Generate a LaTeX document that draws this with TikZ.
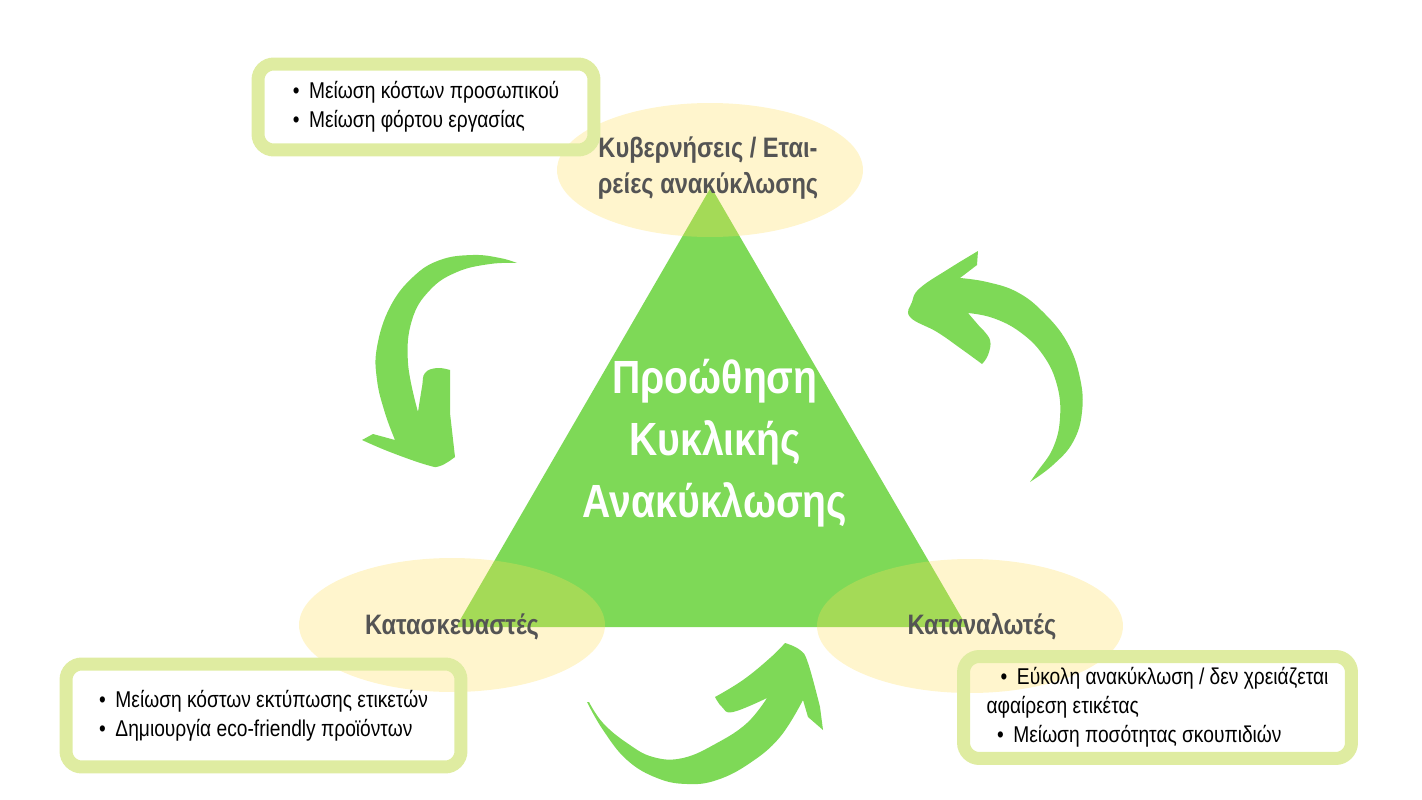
\documentclass[tikz,border=0pt]{standalone}
\usepackage{fontspec}
\setmainfont[FakeStretch=0.84]{Liberation Sans}
\usetikzlibrary{shapes.geometric, positioning}

\definecolor{leaf}{HTML}{7ED957}
\definecolor{sun}{HTML}{FFDE59}
\definecolor{lime}{RGB}{223,236,161}
\definecolor{ink}{HTML}{545454}

\begin{document}
\begin{tikzpicture}[x=0.02cm, y=-0.02cm,
  bx/.style={draw=lime, line width=7.4pt, rounded corners=9pt, align=left,
    font=\fontsize{13}{16.5}\selectfont, inner sep=0pt},
  oval/.style={ellipse, fill=sun, fill opacity=0.3, inner sep=0pt,
    minimum width=6.12cm, minimum height=2.68cm},
  lbl/.style={text=ink, font=\fontsize{16}{20.5}\selectfont\bfseries, align=center}]
  \useasboundingbox (0,0) rectangle (1422,800);
  % triangle
  \coordinate (top) at (711,187);
  \coordinate (bl) at (456,627);
  \coordinate (br) at (967,627);
  \fill[leaf] (top) -- (bl) -- (br) -- cycle;
  % ovals
  \node[oval] (govE) at (710,170) {};
  \node[oval] (mfrE) at (452,625) {};
  \node[oval] (consE) at (970,626) {};
  \node[lbl] (gov) at (708,168) {Κυβερνήσεις / Εται-\\ ρείες ανακύκλωσης};
  \node[lbl] (mfr) at (452,627) {Κατασκευαστές};
  \node[lbl] (cons) at (982,627) {Καταναλωτές};
  % boxes
  \node[bx, minimum width=6.72cm, minimum height=1.72cm] (govbox) at (426,107)
    {\textbullet\hspace{5.5pt}Μείωση κόστων προσωπικού\\ \textbullet\hspace{5.5pt}Μείωση φόρτου εργασίας};
  \node[bx, minimum width=7.9cm, minimum height=2.06cm] (mfrbox) at (263.5,715.5)
    {\textbullet\hspace{5.5pt}Μείωση κόστων εκτύπωσης ετικετών\\ \textbullet\hspace{5.5pt}Δημιουργία eco-friendly προϊόντων};
  \node[bx, minimum width=7.76cm, minimum height=2.04cm] (consbox) at (1157.5,707.5)
    {\hspace{8pt}\textbullet\hspace{5.5pt}Εύκολη ανακύκλωση / δεν χρειάζεται\\ αφαίρεση ετικέτας\\ \hspace{6pt}\textbullet\hspace{5.5pt}Μείωση ποσότητας σκουπιδιών};
  \node[text=white, font=\fontsize{26.5}{35.3}\selectfont\bfseries, align=center] (title) at (715,443)
    {Προώθηση\\ Κυκλικής\\ Ανακύκλωσης};
  % arrows
  \fill[leaf] plot[smooth, tension=0.7] coordinates {(517,263) (500,258) (473,255) (440,260) (413,277)
      (390,307) (377,347) (377,380) (385,413) (395,440)}
    -- (373,434) -- (362,440)
    -- plot[smooth, tension=0.7] coordinates {(362,440) (390,452) (427,465) (440,466) (455,457)}
    -- (450,413) -- (450,370)
    -- plot[smooth, tension=0.7] coordinates {(450,370) (437,368) (425,373) (422,387) (418,412)}
    -- plot[smooth, tension=0.7] coordinates {(418,412) (408,363) (412,320) (430,290) (457,272) (490,264) (517,263)}
    -- cycle;
  \fill[leaf] (978,251) -- (977,265) -- (960,278)
    -- plot[smooth, tension=0.7] coordinates {(960,278) (987,282) (1017,292) (1043,312) (1067,342)
      (1080,378) (1082,412) (1073,442) (1053,465) (1030,482)}
    -- plot[smooth, tension=0.7] coordinates {(1030,482) (1037,472) (1053,448) (1060,418) (1057,385)
      (1043,355) (1020,332) (993,318) (968,313)}
    -- (980,327)
    -- plot[smooth, tension=0.7] coordinates {(980,327) (990,340) (988,355) (982,364)}
    -- plot[smooth, tension=0.7] coordinates {(982,364) (960,348) (937,332) (910,317) (912,302) (920,288) (950,268) (978,251)}
    -- cycle;
  \fill[leaf] plot[smooth, tension=0.7] coordinates {(587,702) (603,730) (627,760) (657,778) (687,784)
      (717,780) (750,763) (780,737) (803,700)}
    -- (808,717) -- (823,730) -- (820,707)
    -- plot[smooth, tension=0.7] coordinates {(820,707) (808,663) (800,650) (785,643)}
    -- plot[smooth, tension=0.7] coordinates {(785,643) (770,658) (743,680) (715,697)}
    -- plot[smooth, tension=0.7] coordinates {(715,697) (722,707) (733,712) (767,698)}
    -- plot[smooth, tension=0.7] coordinates {(767,698) (747,723) (717,743) (683,758) (653,757)
      (627,743) (603,723) (589,702)}
    -- cycle;
\end{tikzpicture}
\end{document}
